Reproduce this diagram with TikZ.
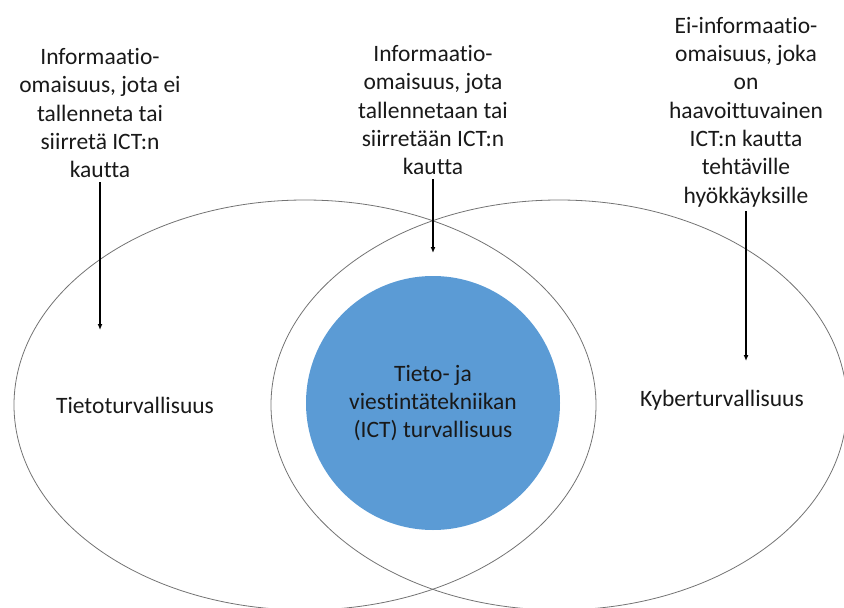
\documentclass[tikz,border=0pt]{standalone}
\usepackage{fontspec}
\setmainfont{Carlito}[Ligatures=NoCommon]
\usetikzlibrary{arrows.meta}
\definecolor{ictblue}{RGB}{91,155,213}

\begin{document}
\begin{tikzpicture}[x=1pt,y=-1pt,every node/.style={align=center,inner sep=0pt,text=black!90,font=\fontsize{23.5}{28.3}\selectfont}]
\useasboundingbox (0,0) rectangle (844,608);
\clip (0,0) rectangle (844,608);

\draw[black!55,line width=0.8pt] (305,405) ellipse (291pt and 205pt);
\draw[black!55,line width=0.8pt] (559,405) ellipse (288pt and 205pt);

\node[circle,fill=ictblue,minimum size=254pt] (ict) at (433,403) {Tieto- ja\\viestintätekniikan\\(ICT) turvallisuus};
\node (tieto) at (135,405) {Tietoturvallisuus};
\node (kyber) at (722,400) {Kyberturvallisuus};

\node[anchor=south] (t1) at (100,178) {Informaatio-\\omaisuus, jota ei\\tallenneta tai\\siirretä ICT:n\\kautta};
\node[anchor=south] (t2) at (433,175) {Informaatio-\\omaisuus, jota\\tallennetaan tai\\siirretään ICT:n\\kautta};
\node[anchor=south] (t3) at (746,207) {Ei-informaatio-\\omaisuus, joka\\on\\haavoittuvainen\\ICT:n kautta\\tehtäville\\hyökkäyksille};

\coordinate (a1) at (100,330);
\coordinate (a2) at (433,253);
\coordinate (a3) at (746,361);

\foreach \t/\a in {t1/a1,t2/a2,t3/a3}{
\draw[-{Latex[length=6pt,width=5pt]},line width=1.3pt,shorten <=4pt] (\t) -- (\a);}

\end{tikzpicture}
\end{document}
